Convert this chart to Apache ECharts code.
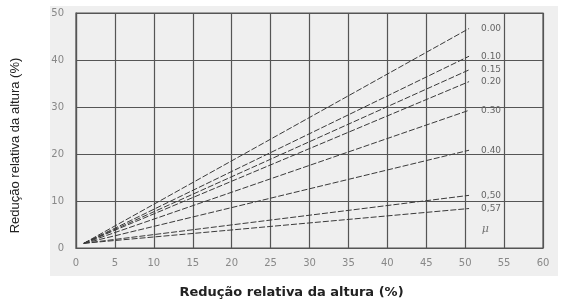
<!DOCTYPE html>
<html>
<head>
<meta charset="utf-8">
<script src="https://cdn.jsdelivr.net/npm/echarts@6/dist/echarts.min.js"></script>
<style>
  html, body { margin: 0; padding: 0; background: #ffffff; }
  #chart { width: 563px; height: 304px; }
</style>
</head>
<body>
<div id="chart"></div>
<script>
'use strict';

// curvas para cada coeficiente de atrito (mu)
var muLabels = ['0.00', '0.10', '0.15', '0.20', '0.30', '0.40', '0,50', '0,57'];
var startPoint = [1, 1];
var endX = 50.5;
var endY = [46.7, 40.8, 37.9, 35.4, 29.3, 20.8, 11.2, 8.4];
var muPos = [52.6, 4];

var xTicks = [0, 5, 10, 15, 20, 25, 30, 35, 40, 45, 50, 55, 60];
var yTicks = [0, 10, 20, 30, 40, 50];

var axisTitle = 'Redução relativa da altura (%)';

var chart = echarts.init(document.getElementById('chart'));

var series = muLabels.map(function (name, i) {
    return {
        name: name,
        type: 'line',
        symbol: 'none',
        silent: true,
        lineStyle: { color: '#3a3a3a', width: 1, type: [6, 2] },
        endLabel: {
            show: true,
            distance: 12,
            formatter: name,
            color: '#666',
            fontSize: 9,
            fontFamily: 'DejaVu Sans'
        },
        data: [startPoint, [endX, endY[i]]]
    };
});

// simbolo mu
series.push({
    type: 'scatter',
    symbolSize: 0,
    silent: true,
    data: [muPos],
    label: {
        show: true,
        position: 'inside',
        formatter: 'μ',
        color: '#555',
        fontSize: 11,
        fontStyle: 'italic',
        fontFamily: 'DejaVu Serif'
    }
});

chart.setOption({
    animation: false,
    backgroundColor: '#ffffff',
    graphic: [{
        type: 'rect',
        z: -10,
        shape: { x: 50, y: 6, width: 508, height: 270 },
        style: { fill: '#efefef' }
    }],
    grid: { left: 76, right: 20, top: 13, bottom: 53, show: true, borderColor: '#555', borderWidth: 1.2 },
    xAxis: {
        type: 'value',
        min: 0, max: 60, interval: 5,
        name: axisTitle,
        nameLocation: 'middle',
        nameGap: 38,
        nameTextStyle: { fontFamily: 'DejaVu Sans', fontWeight: 'bold', fontSize: 13, color: '#222',
            padding: [0, 36, 0, 0] },
        axisLine: { show: true, lineStyle: { color: '#555', width: 1.2 } },
        axisTick: { show: false },
        axisLabel: { color: '#888', fontSize: 10, fontFamily: 'DejaVu Sans', margin: 10,
            formatter: function (v) { return xTicks.indexOf(v) >= 0 ? String(v) : ''; } },
        splitLine: { show: true, lineStyle: { color: '#555', width: 1.2 } }
    },
    yAxis: {
        type: 'value',
        min: 0, max: 50, interval: 10,
        name: axisTitle,
        nameLocation: 'middle',
        nameGap: 54,
        nameTextStyle: { fontFamily: 'Liberation Sans', fontSize: 13, color: '#222',
            padding: [0, 30, 0, 0] },
        axisLine: { show: true, lineStyle: { color: '#555', width: 1.2 } },
        axisTick: { show: false },
        axisLabel: { color: '#888', fontSize: 10, fontFamily: 'DejaVu Sans', margin: 12,
            formatter: function (v) { return yTicks.indexOf(v) >= 0 ? String(v) : ''; } },
        splitLine: { show: true, lineStyle: { color: '#555', width: 1.2 } }
    },
    series: series
});
</script>
</body>
</html>
